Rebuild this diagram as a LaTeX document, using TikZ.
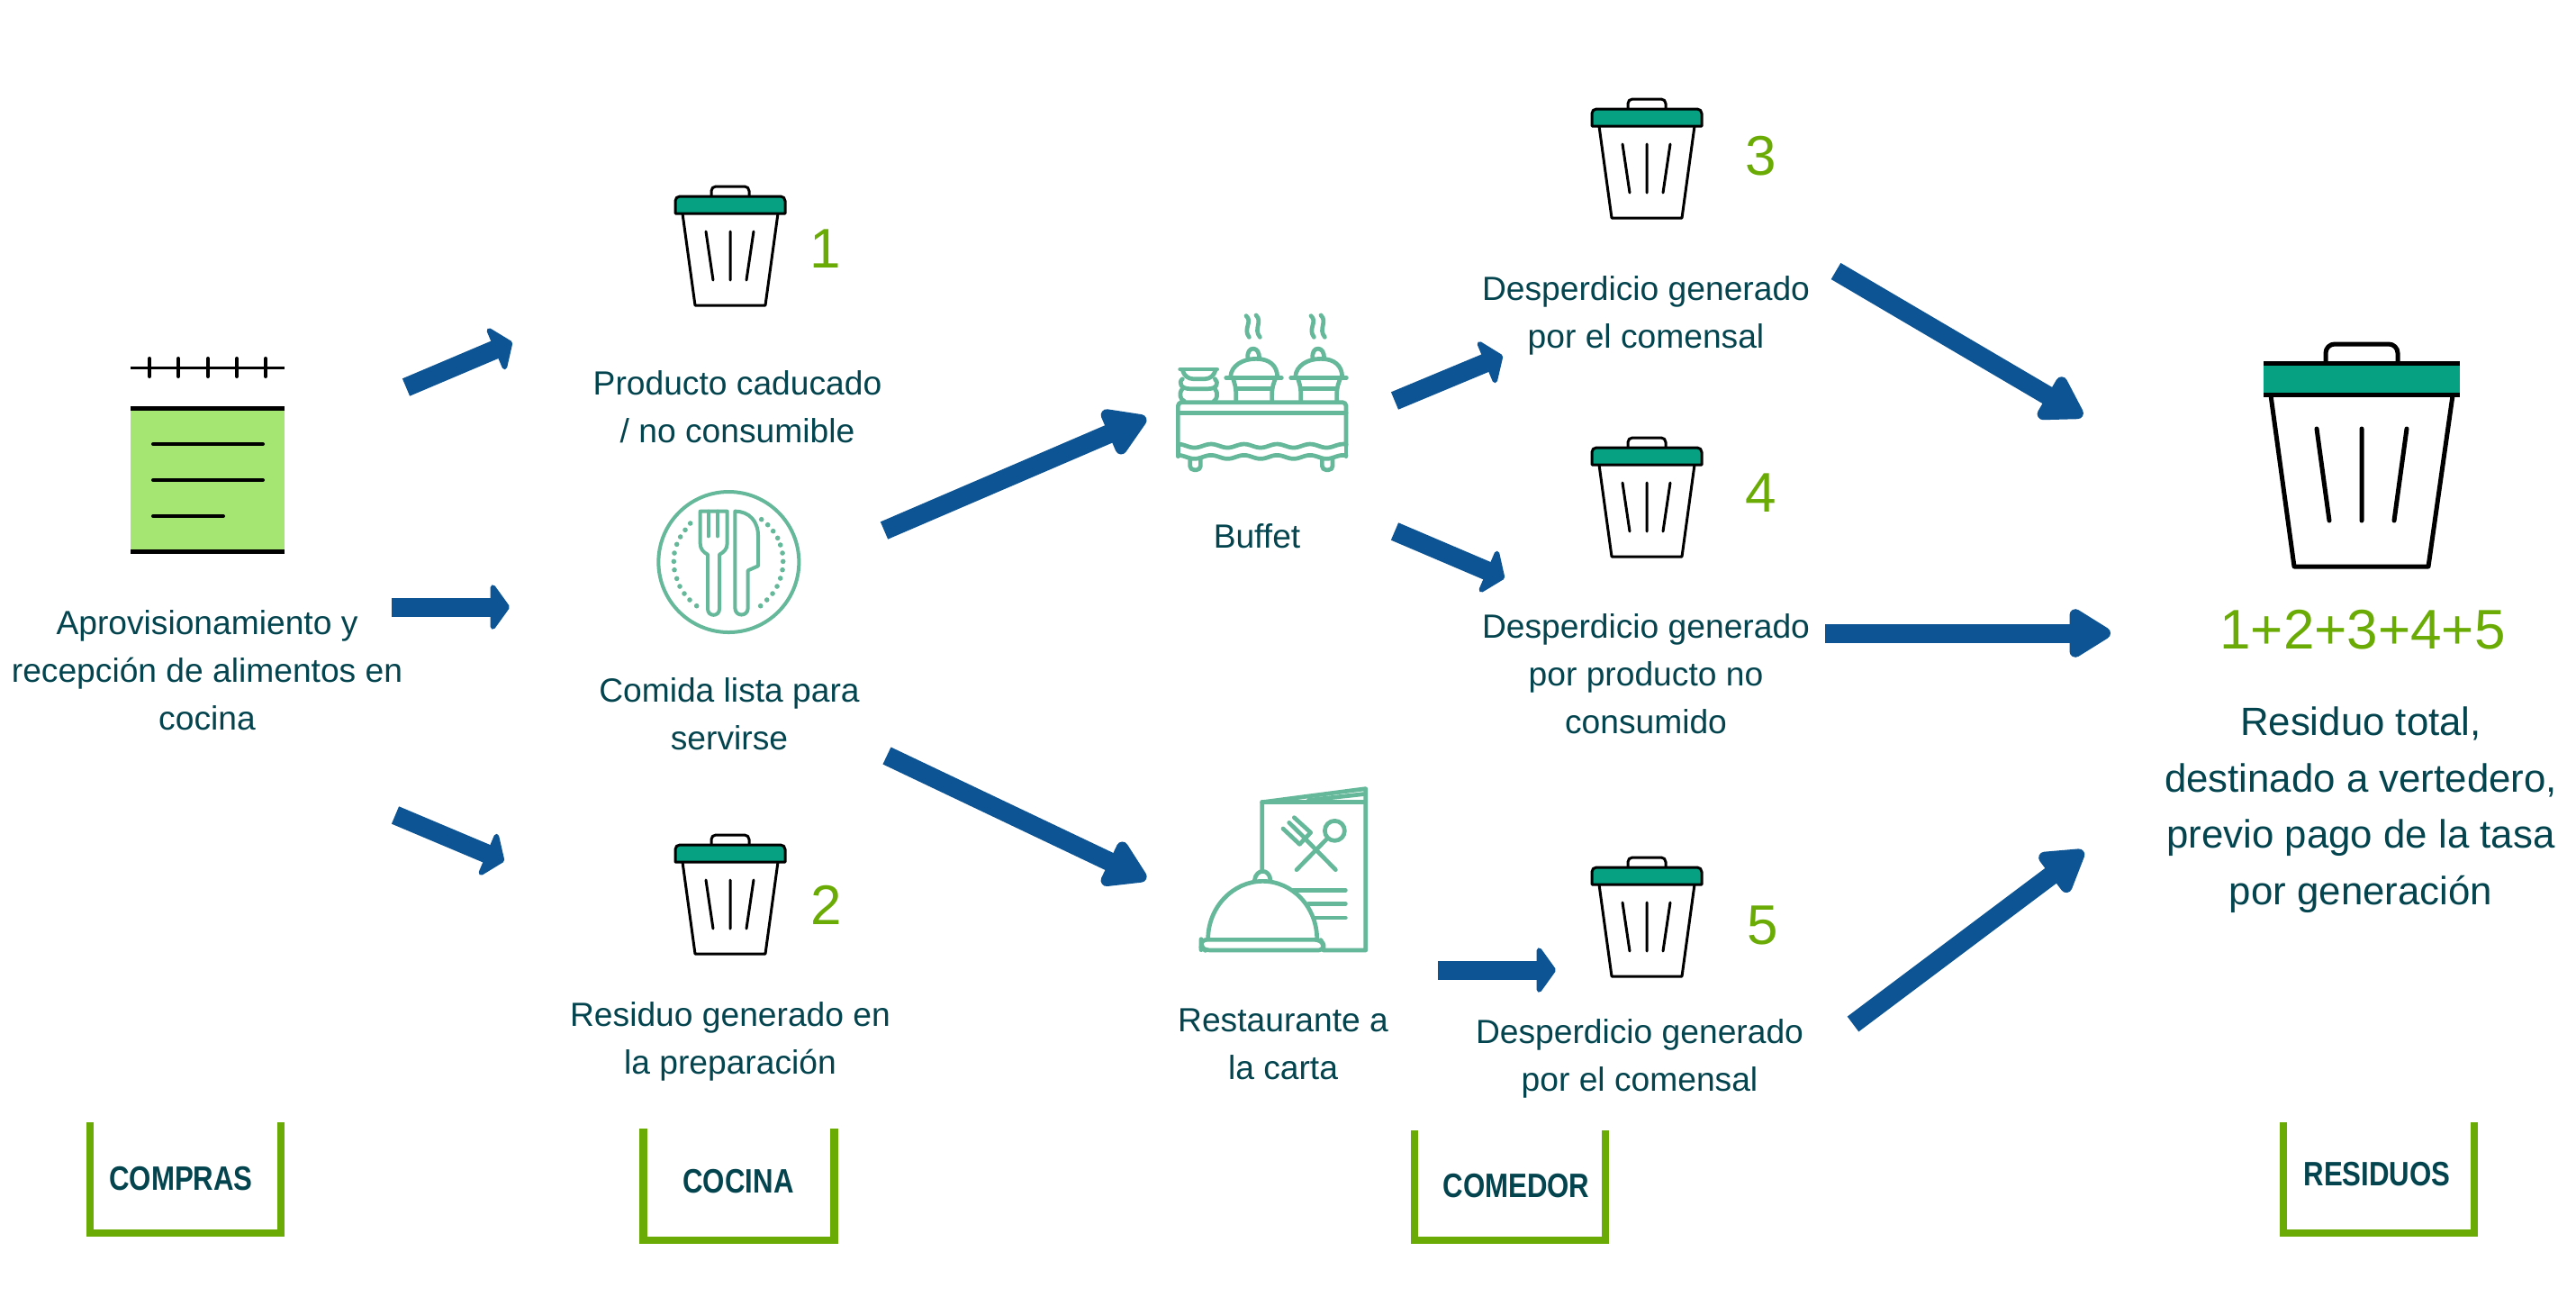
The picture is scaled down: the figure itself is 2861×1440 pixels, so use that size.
\documentclass[tikz,border=0pt]{standalone}
\usepackage{fontspec}
\setmainfont{Liberation Sans}
\usetikzlibrary{arrows.meta}
\definecolor{txtc}{HTML}{03444F}
\definecolor{grn}{HTML}{6BAB05}
\definecolor{lid}{HTML}{05A182}
\definecolor{arr}{HTML}{0C5494}
\definecolor{icn}{HTML}{66B89A}
\definecolor{pad}{HTML}{A5E673}
\tikzset{
  txt/.style={text=txtc,align=center,inner sep=0pt,font=\fontsize{18.6}{26.5}\selectfont},
  bigtxt/.style={text=txtc,align=center,inner sep=0pt,font=\fontsize{21.9}{31.3}\selectfont},
  num/.style={text=grn,inner sep=0pt,font=\fontsize{31}{31}\selectfont},
  head/.style={text=txtc,inner sep=0pt,font=\addfontfeature{FakeStretch=0.83}\bfseries\fontsize{18.8}{20}\selectfont},
  bracket/.style={draw=grn,line width=4.25pt,line join=miter},
  flechaS/.style={draw=arr,line width=10.5pt,-{Triangle[length=11pt,width=30pt,round,fill=arr]}},
  flechaL/.style={draw=arr,line width=10.5pt,-{Triangle[length=26pt,width=30pt,round,fill=arr]}},
  binline/.style={draw=black,line width=1.5pt,line cap=round,line join=round},
  icon/.style={draw=icn,line width=2.35pt,line cap=round,line join=round},
  plateline/.style={draw=icn,line width=2pt,line cap=round,line join=round},
}
% small bin, centre x and lid top y given
\newcommand{\smallbin}[2]{%
\begin{scope}[shift={(#1,#2)}]
  \draw[binline,rounded corners=2.5pt] (-21,0) -- (-21,-11) -- (21,-11) -- (21,0);
  \draw[binline,fill=white] (-53,19) -- (-39,121) -- (39,121) -- (53,19);
  \draw[binline,fill=lid] (-61,19) -- (-61,5) arc[start angle=180,end angle=90,radius=2.5pt] -- (56,0) arc[start angle=90,end angle=0,radius=2.5pt] -- (61,19) -- cycle;
  \draw[binline] (-27,39) -- (-19,93) (0,39) -- (0,93) (26,39) -- (18,93);
\end{scope}}
\begin{document}
\begin{tikzpicture}[x=0.5pt,y=-0.5pt]
\useasboundingbox[fill=white] (0,0) rectangle (2861,1440);

% ---------- notebook
\fill[pad] (145,453) rectangle (316,612);
\draw[black,line width=1.5pt] (145,408) -- (316,408);
\foreach \tx in {166,198,231,263,295}{\draw[black,line width=2pt,line cap=round] (\tx,398) -- (\tx,418);}
\draw[black,line width=2.5pt] (145,453) -- (316,453) (145,612) -- (316,612);
\draw[black,line width=2pt,line cap=round] (170,493) -- (292,493) (170,533) -- (292,533) (170,573) -- (248,573);

% ---------- bins
\smallbin{811}{218}
\smallbin{811}{938}
\smallbin{1829}{121}
\smallbin{1829}{497}
\smallbin{1829}{963}
% large bin
\draw[black,line width=2.5pt,rounded corners=5pt] (2583,402) -- (2583,382) -- (2663,382) -- (2663,402);
\draw[black,line width=2.5pt,line join=round,fill=white] (2522,439) -- (2548,629) -- (2697,629) -- (2724,439);
\fill[lid] (2514,402) rectangle (2732,439);
\draw[black,line width=2.5pt] (2514,403) -- (2732,403) (2514,438) -- (2732,438);
\draw[black,line width=2.5pt,line cap=round] (2573,476) -- (2587,578) (2623,476) -- (2623,578) (2673,476) -- (2659,578);

% ---------- plate icon
\begin{scope}[shift={(700,520)},x=0.1667pt,y=-0.1667pt]
  \draw[plateline] (328,312) circle[radius=39pt];
  \draw[plateline] (233,143) -- (233,250) .. controls (233,270) and (245,280) .. (258,287) -- (258,468) .. controls (258,495) and (297,495) .. (297,468) -- (297,287) .. controls (310,280) and (323,270) .. (323,250) -- (323,143) -- cycle;
  \draw[plateline] (260,143) -- (260,226) (291,143) -- (291,226);
  \draw[plateline] (349,143) -- (349,465) .. controls (349,495) and (392,495) .. (392,465) -- (392,340) -- (426,325) -- (426,225) .. controls (426,175) and (395,143) .. (349,143);
  \foreach \dx/\dy in {200/183,183/205,167/228,155/253,147/282,145/310,147/338,155/367,165/393,180/417,198/438,221/458,437/170,458/188,476/209,491/232,500/255,507/282,509/310,507/338,500/366,489/393,474/417,455/438,434/458}
    \fill[icn] (\dx,\dy) circle[radius=1.4pt];
\end{scope}

% ---------- buffet icon
\begin{scope}[shift={(1280,330)},x=0.1667pt,y=-0.1667pt]
  \draw[icon] plot[domain=85:645,samples=70,smooth] (\x,{495-6*cos((\x-195)/110*360)});
  \draw[icon,rounded corners=2pt] (85,495) -- (85,350) -- (645,350) -- (645,495);
  \draw[icon] plot[domain=85:645,samples=70,smooth] (\x,{532-6*cos((\x-195)/110*360)});
  \draw[icon] (85,495) -- (85,530) (645,495) -- (645,530);
  \draw[icon] (85,385) -- (645,385);
  \draw[icon,rounded corners=2.2pt] (125,542) -- (125,575) -- (160,575) -- (160,542);
  \draw[icon,rounded corners=2.2pt] (565,542) -- (565,575) -- (600,575) -- (600,542);
  % bowls
  \draw[icon] (92,240) -- (215,240);
  \draw[icon] (100,243) .. controls (105,262) and (120,272) .. (135,272) -- (175,272) .. controls (190,272) and (205,262) .. (210,243);
  \draw[icon] (100,272) .. controls (85,285) and (95,305) .. (125,305) -- (185,305) .. controls (215,305) and (222,285) .. (208,272);
  \draw[icon] (100,305) .. controls (85,320) and (95,345) .. (105,345) (208,305) .. controls (222,320) and (212,345) .. (205,345);
  \foreach \ox in {0,216}{
    \begin{scope}[xshift=\ox*0.1667pt]
      \draw[icon] (245,268) -- (430,268);
      \draw[icon] (260,265) .. controls (262,228) and (300,205) .. (345,205) .. controls (390,205) and (415,228) .. (416,265);
      \draw[icon] (318,205) .. controls (310,160) and (360,160) .. (355,205);
      \draw[icon] (268,270) .. controls (272,285) and (280,295) .. (278,345) (410,270) .. controls (405,285) and (396,295) .. (398,345);
      \draw[icon] (278,305) -- (398,305);
      \draw[icon] (312,62) .. controls (335,82) and (300,105) .. (322,133);
      \draw[icon] (345,60) .. controls (368,82) and (335,105) .. (358,133);
    \end{scope}
  }
\end{scope}

% ---------- menu icon
\begin{scope}[shift={(1310,860)},x=0.1667pt,y=-0.1667pt]
  \draw[icon] (275,320) -- (275,92) -- (620,47) -- (620,585) -- (480,585);
  \draw[icon] (275,92) -- (620,92);
  \draw[icon] (430,85) -- (612,65);
  \draw[icon,rounded corners=3pt] (72,566) -- (72,550) -- (470,550) -- (480,566) -- (480,585) -- (85,585) -- (72,575) -- cycle;
  \draw[icon] (95,548) .. controls (95,440) and (180,355) .. (277,355) .. controls (375,355) and (458,440) .. (458,548);
  \draw[icon] (250,352) .. controls (255,312) and (300,312) .. (303,352);
  \draw[icon] (380,385) -- (553,385) (430,430) -- (553,430) (450,477) -- (553,477);
  \draw[icon] (517,187) circle[radius=5.5pt];
  \draw[icon] (490,215) -- (390,317);
  \draw[icon] (520,317) -- (420,215);
  \draw[icon] (345,180) -- (400,232) -- (437,193) -- (382,143);
  \draw[icon] (365,160) -- (418,212);
\end{scope}

% ---------- arrows
\coordinate (a1s) at (451,430); \coordinate (a1e) at (569,380);
\coordinate (a2s) at (435,674); \coordinate (a2e) at (566,674);
\coordinate (a3s) at (439,905); \coordinate (a3e) at (560,956);
\coordinate (a4s) at (982,589); \coordinate (a4e) at (1273,464);
\coordinate (a5s) at (985,839); \coordinate (a5e) at (1273,976);
\coordinate (a6s) at (1549,445); \coordinate (a6e) at (1669,395);
\coordinate (a7s) at (1549,590); \coordinate (a7e) at (1671,642);
\coordinate (a8s) at (1597,1077); \coordinate (a8e) at (1728,1077);
\coordinate (a9s) at (2039,301); \coordinate (a9e) at (2313,462);
\coordinate (a10s) at (2027,703); \coordinate (a10e) at (2344,703);
\coordinate (a11s) at (2058,1137); \coordinate (a11e) at (2314,945);
\draw[flechaS] (a1s) -- (a1e);
\draw[flechaS] (a2s) -- (a2e);
\draw[flechaS] (a3s) -- (a3e);
\draw[flechaL] (a4s) -- (a4e);
\draw[flechaL] (a5s) -- (a5e);
\draw[flechaS] (a6s) -- (a6e);
\draw[flechaS] (a7s) -- (a7e);
\draw[flechaS] (a8s) -- (a8e);
\draw[flechaL] (a9s) -- (a9e);
\draw[flechaL] (a10s) -- (a10e);
\draw[flechaL] (a11s) -- (a11e);

% ---------- texts
\node[txt] (t1) at (230,744) {Aprovisionamiento y\\recepción de alimentos en\\cocina};
\node[txt] (t2) at (819,452) {Producto caducado\\/ no consumible};
\node[txt] (t3) at (810,793) {Comida lista para\\servirse};
\node[txt] (t4) at (811,1156) {Residuo generado en\\la preparación};
\node[txt] (t5) at (1396,595) {Buffet};
\node[txt] (t6) at (1828,350) {Desperdicio generado\\por el comensal};
\node[txt] (t7) at (1828,748) {Desperdicio generado\\por producto no\\consumido};
\node[txt] (t8) at (1425,1159) {Restaurante a\\la carta};
\node[txt] (t9) at (1821,1175) {Desperdicio generado\\por el comensal};
\node[bigtxt] (t10) at (2622,899) {Residuo total,\\destinado a vertedero,\\previo pago de la tasa\\por generación};
\node[num] (total) at (2624,699) {1+2+3+4+5};
\node[num] (n1) at (917,276) {1};
\node[num] (n2) at (918,1005) {2};
\node[num] (n3) at (1956,173) {3};
\node[num] (n4) at (1956,547) {4};
\node[num] (n5) at (1958,1027) {5};

% ---------- brackets
\draw[bracket] (100,1246) -- (100,1369) -- (312,1369) -- (312,1246);
\draw[bracket] (714.5,1253) -- (714.5,1377) -- (926.5,1377) -- (926.5,1253);
\draw[bracket] (1571,1255) -- (1571,1377) -- (1783,1377) -- (1783,1255);
\draw[bracket] (2536,1246) -- (2536,1369) -- (2748,1369) -- (2748,1246);
\node[head] (h1) at (201,1309) {COMPRAS};
\node[head] (h2) at (820,1312) {COCINA};
\node[head] (h3) at (1684,1317) {COMEDOR};
\node[head] (h4) at (2640,1304) {RESIDUOS};
\end{tikzpicture}
\end{document}
